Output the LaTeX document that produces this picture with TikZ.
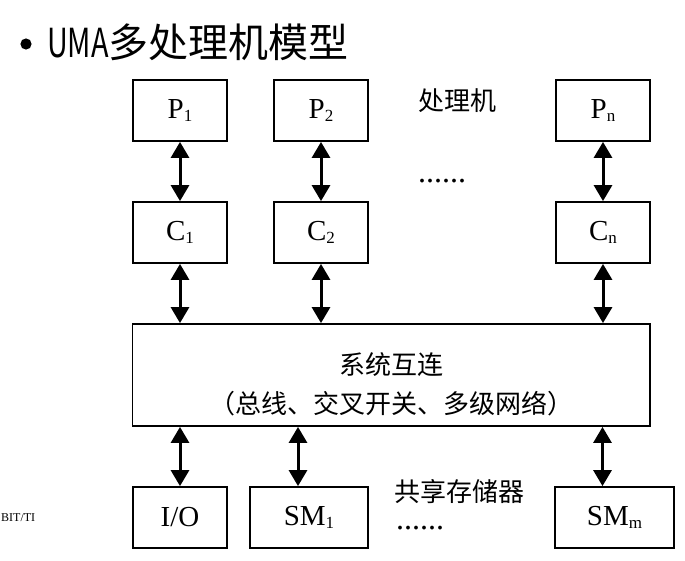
\documentclass[tikz,border=0pt]{standalone}
\usepackage{fontspec}
\usepackage{graphicx}
\setmainfont{Liberation Serif}
\newfontfamily\cjk{Noto Sans CJK SC}
\usetikzlibrary{arrows.meta}
\newcommand\sbx[1]{\raisebox{-3pt}{\fontsize{17}{17}\selectfont #1}}
\tikzset{
  box/.style={draw, line width=1.8pt, minimum height=61pt, inner sep=0pt,
    font=\fontsize{29}{29}\selectfont},
  narrowbox/.style={box, minimum width=94.6pt},
  widebox/.style={box, minimum width=118.5pt},
  link/.style={line width=3pt,
    {Triangle[length=16pt,width=18pt]}-{Triangle[length=16pt,width=18pt]}},
  cjklabel/.style={inner sep=0pt, font=\cjk\fontsize{26}{26}\selectfont},
  dots/.style={inner sep=0pt, font=\fontsize{32}{32}\selectfont},
}
\begin{document}
\begin{tikzpicture}[x=1pt,y=-1pt]
\useasboundingbox (0,0) rectangle (685,560);
% title
\fill (26,44) circle (5.6pt);
\node[anchor=west, inner sep=0pt, font=\cjk\fontsize{40}{40}\selectfont] (title) at (47,42)
  {\scalebox{0.72}[1]{UMA}多处理机模型};
% processors
\node[narrowbox] (p1) at (180,110.5) {P\sbx{1}};
\node[narrowbox] (p2) at (321,110.5) {P\sbx{2}};
\node[narrowbox] (pn) at (603,110.5) {P\sbx{n}};
\node[cjklabel] (plabel) at (457,101) {处理机};
\node[dots] (pdots) at (442,181) {......};
% caches
\node[narrowbox] (c1) at (180,232.5) {C\sbx{1}};
\node[narrowbox] (c2) at (321,232.5) {C\sbx{2}};
\node[narrowbox] (cn) at (603,232.5) {C\sbx{n}};
% interconnect
\node[box, minimum width=517.5pt, minimum height=102pt] (big) at (391.25,375) {};
\node[cjklabel] (bigl1) at (391,365) {系统互连};
\node[cjklabel] (bigl2) at (391,404) {（总线、交叉开关、多级网络）};
% bottom row
\node[narrowbox] (io) at (180,517.5) {I/O};
\node[widebox] (sm1) at (309,517.5) {SM\sbx{1}};
\node[widebox] (smm) at (614.5,517.5) {SM\sbx{m}};
\node[cjklabel] (smlabel) at (459,492) {共享存储器};
\node[dots] (smdots) at (420,528) {......};
\node[anchor=west, inner sep=0pt, font=\fontsize{12}{12}\selectfont] (mark) at (1,518) {BIT/TI};
% connectors
\draw[link] (p1) -- (c1);
\draw[link] (p2) -- (c2);
\draw[link] (pn) -- (cn);
\draw[link] (c1) -- (c1 |- big.north);
\draw[link] (c2) -- (c2 |- big.north);
\draw[link] (cn) -- (cn |- big.north);
\coordinate (s1x) at (298,0);
\coordinate (smx) at (602.5,0);
\draw[link] (big.south -| io) -- (io);
\draw[link] (big.south -| s1x) -- (sm1.north -| s1x);
\draw[link] (big.south -| smx) -- (smm.north -| smx);
\end{tikzpicture}
\end{document}
